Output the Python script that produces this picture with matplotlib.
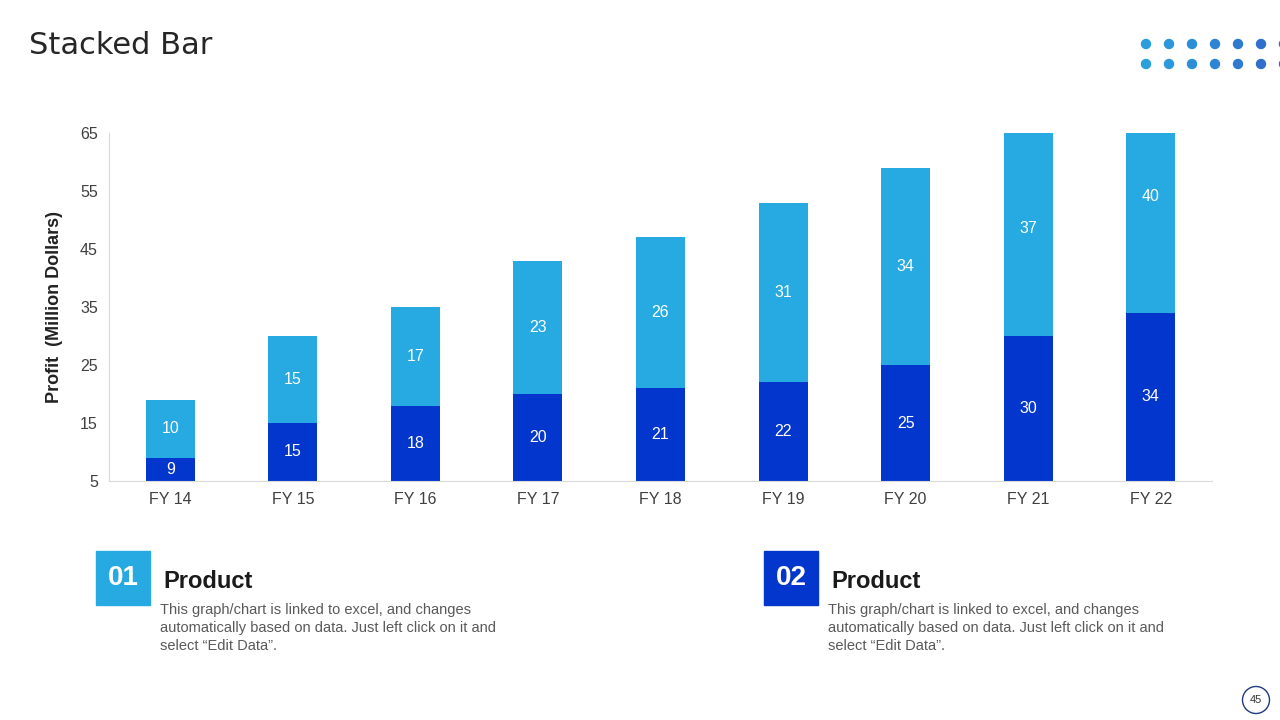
import matplotlib.pyplot as plt
import matplotlib.patches as mpatches
import numpy as np

plt.rcParams['font.family'] = ['Liberation Sans', 'DejaVu Sans']

years = ['FY 14', 'FY 15', 'FY 16', 'FY 17', 'FY 18', 'FY 19', 'FY 20', 'FY 21', 'FY 22']
product_01 = [9, 15, 18, 20, 21, 22, 25, 30, 34]
product_02 = [10, 15, 17, 23, 26, 31, 34, 37, 40]
yticks = [5, 15, 25, 35, 45, 55, 65]

dark = '#0336cc'
light = '#27a9e1'
ymin, ymax = 5, 65

fig = plt.figure(figsize=(12.8, 7.2), dpi=100)
ax = fig.add_axes([109/1280, 1-481/720, (1212-109)/1280, (481-133)/720])

x = np.arange(len(years))
b1 = ax.bar(x, product_01, width=0.4, color=dark, zorder=2)
b2 = ax.bar(x, product_02, width=0.4, bottom=product_01, color=light, zorder=2)

# labels sit in the middle of the part of the bar above the axis floor
for i in range(len(years)):
    lo, hi = 0, product_01[i]
    ax.text(i, (max(lo, ymin) + hi) / 2, str(product_01[i]), ha='center', va='center',
            color='white', fontsize=11.5)
    lo, hi = product_01[i], product_01[i] + product_02[i]
    ax.text(i, (max(lo, ymin) + hi) / 2, str(product_02[i]), ha='center', va='center',
            color='white', fontsize=11.5)

ax.set_xlim(-0.5, len(years) - 0.5)
ax.set_ylim(ymin, ymax)
ax.set_yticks(yticks)
ax.set_xticks(x)
ax.set_xticklabels(years)
ax.tick_params(length=0, labelsize=11.5, labelcolor='#404040', pad=8)
for s in ['top', 'right']:
    ax.spines[s].set_visible(False)
for s in ['left', 'bottom']:
    ax.spines[s].set_color('#d9d9d9')
ax.set_ylabel('Profit  (Million Dollars)', fontsize=13, fontweight='bold', color='#222222', labelpad=12)

# title
fig.text(29/1280, 1-45/720, 'Stacked Bar', fontsize=22, color='#262626', va='center', ha='left',
         family=['DejaVu Sans'])

# dot decoration top right
dot_cols = ['#2a9fdc', '#2a98da', '#2b8fd7', '#2d84d3', '#2e7ad0', '#2f70cc', '#3068cb']
dot_x = [1146, 1169, 1192, 1215, 1238, 1261, 1284]
for row_y in [44, 64]:
    for dx, dc in zip(dot_x, dot_cols):
        fig.patches.append(mpatches.Ellipse((dx/1280, 1-row_y/720), 9/1280, 9/720,
                                            transform=fig.transFigure, color=dc))

# bottom boxes
def product_box(x0, color, num):
    fig.patches.append(mpatches.Rectangle((x0/1280, 1-605/720), 54/1280, 54/720,
                                          transform=fig.transFigure, color=color))
    fig.text((x0+27)/1280, 1-578/720, num, fontsize=20, fontweight='bold', color='white',
             ha='center', va='center')
    fig.text((x0+67)/1280, 1-581/720, 'Product', fontsize=17, fontweight='bold', color='#1a1a1a',
             ha='left', va='center')
    fig.text((x0+64)/1280, 1-603/720,
             'This graph/chart is linked to excel, and changes\n'
             'automatically based on data. Just left click on it and\n'
             'select \u201cEdit Data\u201d.',
             fontsize=10.5, color='#595959', ha='left', va='top', linespacing=1.38)

product_box(96, light, '01')
product_box(764, dark, '02')

# page number
fig.patches.append(mpatches.Ellipse((1256/1280, 1-700/720), 27/1280, 27/720,
                                    transform=fig.transFigure, facecolor='white',
                                    edgecolor='#1f3a80', linewidth=1))
fig.text(1256/1280, 1-700/720, '45', fontsize=8, color='#333333', ha='center', va='center')

fig.savefig('out.png', dpi=100)
